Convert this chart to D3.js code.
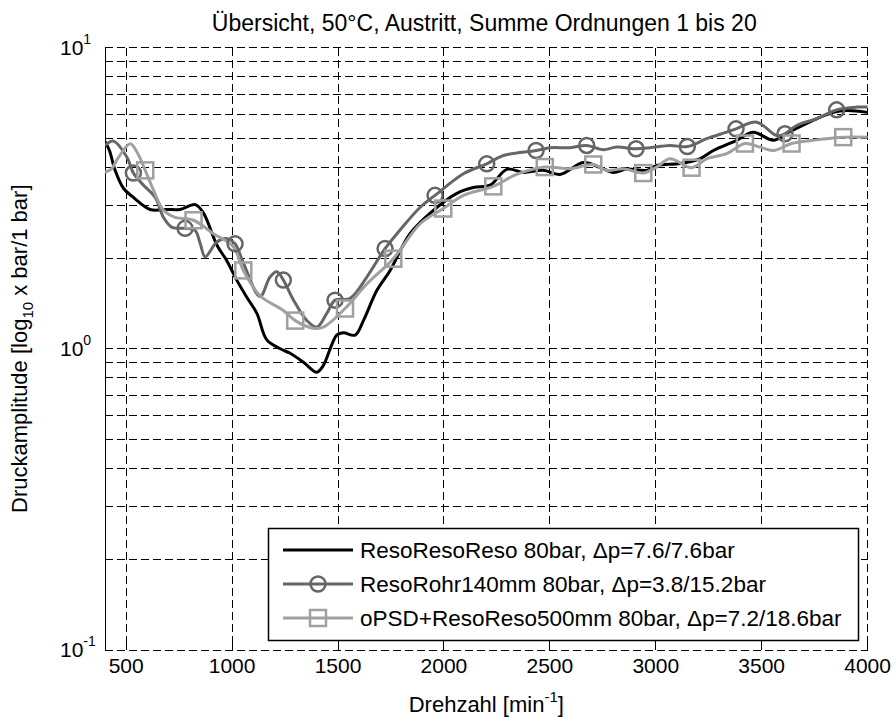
<!DOCTYPE html>
<html lang="de">
<head>
<meta charset="UTF-8">
<title>Übersicht</title>
<script src="https://d3js.org/d3.v7.min.js"></script>
<style>
  body { margin: 0; background: #fff; }
  text { font-family: "Liberation Sans", Arial, sans-serif; fill: #000; }
</style>
</head>
<body>
<script>
// Daten
var resoRpm = [400,421,448,487,534,613,692,755,826,865,928,975,1022,1070,1117,1164,1227,1274,1337,1400,1431,1494,1525,1581,1620,1683,1746,1840,1950,2061,2139,2218,2297,2375,2469,2548,2658,2737,2800,2863,2957,3005,3115,3210,3272,3382,3460,3555,3618,3743,3838,3901,4000];
var resoVal = [4.88,4.55,3.91,3.41,3.18,2.90,2.90,2.90,3.01,2.82,2.21,1.96,1.69,1.48,1.31,1.07,1.00,0.966,0.902,0.836,0.881,1.11,1.13,1.11,1.24,1.56,1.82,2.41,2.88,3.28,3.43,3.49,3.94,3.85,3.91,3.79,4.15,4.00,3.85,3.95,3.91,4.06,4.12,4.28,4.55,4.92,5.23,4.92,5.19,5.73,6.09,6.18,6.09];

var rohrRpm = [400,440,503,534,582,637,676,716,778,825,849,873,928,975,1014,1054,1132,1179,1211,1242,1290,1353,1400,1447,1486,1557,1636,1722,1791,1888,1958,2092,2202,2281,2435,2501,2595,2674,2752,2816,2907,2973,3067,3149,3240,3335,3379,3476,3571,3610,3665,3759,3854,3948,4000];
var rohrVal = [4.73,4.89,4.33,3.83,3.49,3.18,2.73,2.53,2.51,2.47,2.24,2.02,2.26,2.32,2.23,1.92,1.49,1.73,1.80,1.69,1.45,1.24,1.18,1.31,1.45,1.47,1.73,2.15,2.47,2.95,3.23,3.81,4.11,4.38,4.55,4.65,4.65,4.73,4.58,4.67,4.61,4.65,4.73,4.69,4.98,5.24,5.37,5.65,5.10,5.17,5.51,5.80,6.21,6.34,6.34];
var rohrMarker = [534,778,1014,1242,1486,1722,1958,2202,2435,2674,2907,3149,3379,3610,3854];

var opsdRpm = [400,430,462,519,552,590,629,676,731,818,912,1006,1053,1132,1242,1298,1384,1431,1533,1636,1761,1888,1997,2092,2233,2343,2476,2595,2705,2768,2847,2941,3004,3067,3169,3240,3335,3421,3492,3555,3641,3743,3885,4000];
var opsdVal = [3.86,3.95,4.30,4.79,4.48,3.91,3.36,2.88,2.73,2.67,2.41,2.18,1.82,1.50,1.34,1.24,1.17,1.18,1.36,1.64,1.99,2.60,2.92,3.23,3.46,3.79,4.01,3.96,4.09,3.91,3.96,3.83,4.01,4.27,3.99,4.27,4.44,4.80,4.67,4.55,4.80,4.92,5.04,5.04];
var opsdMarker = [590,818,1053,1298,1533,1761,1997,2233,2476,2705,2941,3169,3421,3641,3885];

var xTicks = [500,1000,1500,2000,2500,3000,3500,4000];
var yMajor = [0.1, 1, 10];
var yMinor = [0.2,0.3,0.4,0.5,0.6,0.7,0.8,0.9,2,3,4,5,6,7,8,9];

var legendLabels = [
  "ResoResoReso 80bar, \u0394p=7.6/7.6bar",
  "ResoRohr140mm 80bar, \u0394p=3.8/15.2bar",
  "oPSD+ResoReso500mm 80bar, \u0394p=7.2/18.6bar"
];

var width = 896, height = 717;
var pLeft = 105, pRight = 867.6, pTop = 47.5, pBottom = 650;

var svg = d3.select("body").append("svg").attr("width", width).attr("height", height);

var x = d3.scaleLinear().domain([400, 4000]).range([pLeft, pRight]);
var y = d3.scaleLog().domain([0.1, 10]).range([pBottom, pTop]);

// Gitter
var grid = svg.append("g").attr("stroke", "#000").attr("stroke-width", 1)
  .attr("stroke-dasharray", "8,4").attr("shape-rendering", "crispEdges");
grid.selectAll(".gx").data(xTicks).enter().append("line")
  .attr("x1", function(d) { return x(d); }).attr("x2", function(d) { return x(d); })
  .attr("y1", pTop).attr("y2", pBottom);
grid.selectAll(".gy").data(yMajor.concat(yMinor)).enter().append("line")
  .attr("x1", pLeft).attr("x2", pRight)
  .attr("y1", function(d) { return y(d); }).attr("y2", function(d) { return y(d); });

// Achsen
var ax = svg.append("g").attr("stroke", "#000").attr("stroke-width", 1).attr("shape-rendering", "crispEdges");
ax.append("line").attr("x1", pLeft).attr("x2", pLeft).attr("y1", pTop).attr("y2", pBottom);
ax.selectAll(".ty").data(yMajor.concat(yMinor)).enter().append("line")
  .attr("x1", pLeft).attr("x2", pLeft + 6)
  .attr("y1", function(d) { return y(d); }).attr("y2", function(d) { return y(d); });
ax.selectAll(".tx").data(xTicks).enter().append("line")
  .attr("x1", function(d) { return x(d); }).attr("x2", function(d) { return x(d); })
  .attr("y1", pBottom).attr("y2", pBottom - 8);
ax.selectAll(".txt").data(xTicks).enter().append("line")
  .attr("x1", function(d) { return x(d); }).attr("x2", function(d) { return x(d); })
  .attr("y1", pTop).attr("y2", pTop + 8);

svg.selectAll(".xl").data(xTicks).enter().append("text")
  .attr("x", function(d) { return x(d); }).attr("y", pBottom + 23)
  .attr("text-anchor", "middle").attr("font-size", 21)
  .text(function(d) { return d; });

var yl = svg.selectAll(".yl").data(yMajor).enter().append("text")
  .attr("x", 60).attr("y", function(d) { return y(d) + 7; })
  .attr("font-size", 21);
yl.append("tspan").text("10");
yl.append("tspan").attr("dy", -11).attr("font-size", 14)
  .text(function(d) { return Math.round(Math.log10(d)); });

// Kurven
var line = d3.line()
  .x(function(d) { return x(d[0]); })
  .y(function(d) { return y(d[1]); })
  .curve(d3.curveCatmullRom.alpha(0.5));

svg.append("clipPath").attr("id", "clip").append("rect")
  .attr("x", pLeft).attr("y", pTop - 10).attr("width", pRight - pLeft + 10).attr("height", pBottom - pTop + 10);

var plot = svg.append("g").attr("clip-path", "url(#clip)");

function pairs(a, b) { return a.map(function(d, i) { return [d, b[i]]; }); }
function markerPts(rpm, r, v) {
  return rpm.map(function(m) { return [m, v[r.indexOf(m)]]; });
}

var series = [
  { rpm: resoRpm, val: resoVal, color: "#000", w: 3, marker: null, pts: [] },
  { rpm: rohrRpm, val: rohrVal, color: "#666", w: 3, marker: "circle", pts: markerPts(rohrMarker, rohrRpm, rohrVal) },
  { rpm: opsdRpm, val: opsdVal, color: "#a0a0a0", w: 3, marker: "square", pts: markerPts(opsdMarker, opsdRpm, opsdVal) }
];

series.forEach(function(s) {
  plot.append("path").datum(pairs(s.rpm, s.val))
    .attr("fill", "none").attr("stroke", s.color).attr("stroke-width", s.w)
    .attr("stroke-linejoin", "round").attr("d", line);
});
series.forEach(function(s) {
  if (s.marker == "circle") {
    plot.selectAll(null).data(s.pts).enter().append("circle")
      .attr("cx", function(d) { return x(d[0]); }).attr("cy", function(d) { return y(d[1]); })
      .attr("r", 7.5).attr("fill", "none").attr("stroke", s.color).attr("stroke-width", 2.5);
  } else if (s.marker == "square") {
    plot.selectAll(null).data(s.pts).enter().append("rect")
      .attr("x", function(d) { return x(d[0]) - 8; }).attr("y", function(d) { return y(d[1]) - 8; })
      .attr("width", 16).attr("height", 16)
      .attr("fill", "none").attr("stroke", s.color).attr("stroke-width", 2.5);
  }
});

// Legende
var lg = svg.append("g");
lg.append("rect").attr("x", 268.5).attr("y", 528.5).attr("width", 590).attr("height", 112)
  .attr("fill", "#fff").attr("stroke", "#000").attr("stroke-width", 1.5);
series.forEach(function(s, i) {
  var ly = 550 + i * 34;
  lg.append("line").attr("x1", 283).attr("x2", 353).attr("y1", ly).attr("y2", ly)
    .attr("stroke", s.color).attr("stroke-width", s.w);
  if (s.marker == "circle") {
    lg.append("circle").attr("cx", 318).attr("cy", ly).attr("r", 7.5)
      .attr("fill", "none").attr("stroke", s.color).attr("stroke-width", 2.5);
  } else if (s.marker == "square") {
    lg.append("rect").attr("x", 310).attr("y", ly - 8).attr("width", 16).attr("height", 16)
      .attr("fill", "none").attr("stroke", s.color).attr("stroke-width", 2.5);
  }
  lg.append("text").attr("x", 360).attr("y", ly + 8).attr("font-size", 22.5).text(legendLabels[i]);
});

// Beschriftungen
var cx = (pLeft + pRight) / 2;
svg.append("text").attr("x", cx - 2).attr("y", 31).attr("text-anchor", "middle").attr("font-size", 23)
  .text("Übersicht, 50°C, Austritt, Summe Ordnungen 1 bis 20");

var xt = svg.append("text").attr("x", cx).attr("y", 712).attr("text-anchor", "middle").attr("font-size", 22);
xt.append("tspan").text("Drehzahl [min");
xt.append("tspan").attr("dy", -10).attr("font-size", 15).text("-1");
xt.append("tspan").attr("dy", 10).text("]");

var ytl = svg.append("text").attr("transform", "translate(27," + ((pTop + pBottom) / 2) + ") rotate(-90)")
  .attr("text-anchor", "middle").attr("font-size", 22);
ytl.append("tspan").text("Druckamplitude [log");
ytl.append("tspan").attr("dy", 6).attr("font-size", 15).text("10");
ytl.append("tspan").attr("dy", -6).text(" x bar/1 bar]");
</script>
</body>
</html>
